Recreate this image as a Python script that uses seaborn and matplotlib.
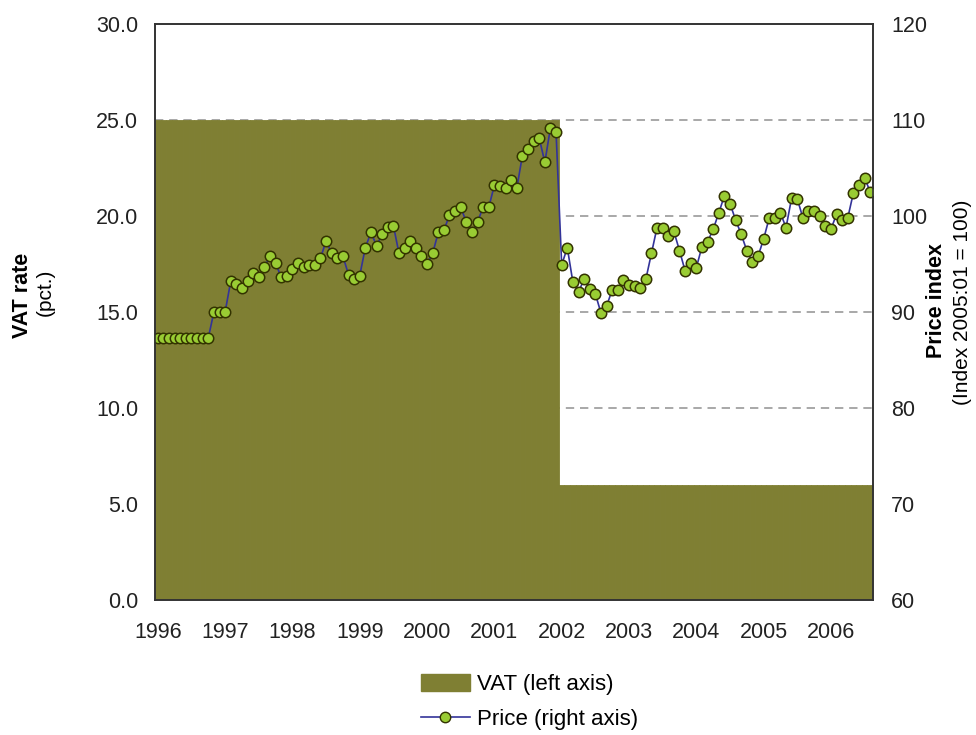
import pandas as pd
import matplotlib.pyplot as plt
import matplotlib.patches as mpatches
import matplotlib.lines as mlines
import seaborn as sns

# Data (monthly, 1996:01 - 2006:08)
years = ['1996', '1997', '1998', '1999', '2000', '2001', '2002', '2003', '2004', '2005', '2006']
vat_before = 25.0
vat_after = 6.0
n_before = 72  # 1996:01 - 2001:12
price = [87.3] * 10 + [90.0] * 3 + [
    93.2, 92.9, 92.5, 93.2, 94.1, 93.6, 94.7, 95.8, 95.1, 93.6, 93.8,
    94.5, 95.1, 94.7, 94.9, 94.9, 95.6, 97.4, 96.1, 95.6, 95.8, 93.9, 93.4, 93.8,
    96.7, 98.3, 96.9, 98.1, 98.9, 99.0, 96.1, 96.7, 97.4, 96.7, 95.8,
    95.0, 96.1, 98.3, 98.5, 100.1, 100.5, 100.9, 99.4, 98.3, 99.4, 100.9, 100.9,
    103.2, 103.1, 102.9, 103.8, 102.9, 106.3, 107.0, 107.8, 108.1, 105.6, 109.2, 108.7,
    94.9, 96.7, 93.1, 92.1, 93.4, 92.4, 91.9, 89.9, 90.6, 92.3, 92.3, 93.3,
    92.8, 92.7, 92.5, 93.4, 96.1, 98.8, 98.8, 97.9, 98.4, 96.4, 94.3, 95.1,
    94.6, 96.8, 97.3, 98.6, 100.3, 102.1, 101.3, 99.6, 98.1, 96.4, 95.2, 95.8,
    97.6, 99.8, 99.8, 100.3, 98.8, 101.9, 101.8, 99.8, 100.5, 100.5, 100.0, 99.0,
    98.6, 100.2, 99.6, 99.8, 102.4, 103.2, 104.0, 102.5,
]
vat = [vat_before] * n_before + [vat_after] * (len(price) - n_before)

df = pd.DataFrame({'month': range(len(price)), 'vat': vat, 'price': price})

vat_color = '#7f7f33'
line_color = '#333399'
marker_face = '#99cc33'
marker_edge = '#333300'

plt.rcParams['font.family'] = ['Liberation Sans', 'DejaVu Sans']

fig = plt.figure(figsize=(9.76, 7.35), dpi=100)
ax = fig.add_axes([155 / 976, 1 - 600 / 735, 718 / 976, 576 / 735])

sns.barplot(data=df, x='month', y='vat', color=vat_color, saturation=1, width=1.0,
            edgecolor=vat_color, linewidth=0.6, ax=ax)
ax.set_xlim(-0.5, len(price) - 0.5)
ax.set_ylim(0, 30)
ax.set_yticks([0, 5, 10, 15, 20, 25, 30])
ax.set_yticklabels(['%.1f' % v for v in [0, 5, 10, 15, 20, 25, 30]])
ax.set_xticks(range(0, len(price), 12))
ax.set_xticklabels(years)
ax.set_xlabel('')
ax.set_ylabel('')
ax.set_axisbelow(True)
ax.grid(False)
for yv in [10, 15, 20, 25]:
    ax.axhline(yv, color='#999999', lw=1.2, ls=(0, (5, 3.5)), zorder=0)
ax.tick_params(axis='y', length=0, pad=12, labelsize=15.5, colors='#222222')
ax.tick_params(axis='x', length=0, pad=16, labelsize=15.5, colors='#222222')

ax2 = ax.twinx()
sns.lineplot(data=df, x='month', y='price', ax=ax2, color=line_color, lw=1.2,
             marker='o', markersize=7.5, markerfacecolor=marker_face,
             markeredgecolor=marker_edge, markeredgewidth=1.1)
ax2.set_ylim(60, 120)
ax2.set_yticks(range(60, 121, 10))
ax2.set_ylabel('')
ax2.tick_params(axis='y', length=0, pad=13, labelsize=15.5, colors='#222222')

for a in [ax, ax2]:
    for s in a.spines.values():
        s.set_color('#333333')
        s.set_linewidth(1.2)

# Axis titles
fig.text(22 / 976, 1 - 295 / 735, 'VAT rate', rotation=90, fontsize=15.5,
         fontweight='bold', ha='center', va='center')
fig.text(45 / 976, 1 - 292 / 735, '(pct.)', rotation=90, fontsize=15,
         ha='center', va='center')
fig.text(937 / 976, 1 - 300 / 735, 'Price index', rotation=90, fontsize=15.5,
         fontweight='bold', ha='center', va='center')
fig.text(962 / 976, 1 - 302 / 735, '(Index 2005:01 = 100)', rotation=90, fontsize=15,
         ha='center', va='center')

# Legend (kept just inside the bottom edge)
handles = [
    mpatches.Patch(color=vat_color, label='VAT (left axis)'),
    mlines.Line2D([], [], color=line_color, lw=1.2, marker='o', markersize=7.5,
                  markerfacecolor=marker_face, markeredgecolor=marker_edge,
                  label='Price (right axis)'),
]
fig.legend(handles=handles, loc='upper left', bbox_to_anchor=(421 / 976, 1 - 674 / 735),
           frameon=False, fontsize=16, handlelength=2.2, handleheight=0.8,
           handletextpad=0.3, labelspacing=0.6, borderpad=0, borderaxespad=0)

plt.savefig('out.png', dpi=100)
